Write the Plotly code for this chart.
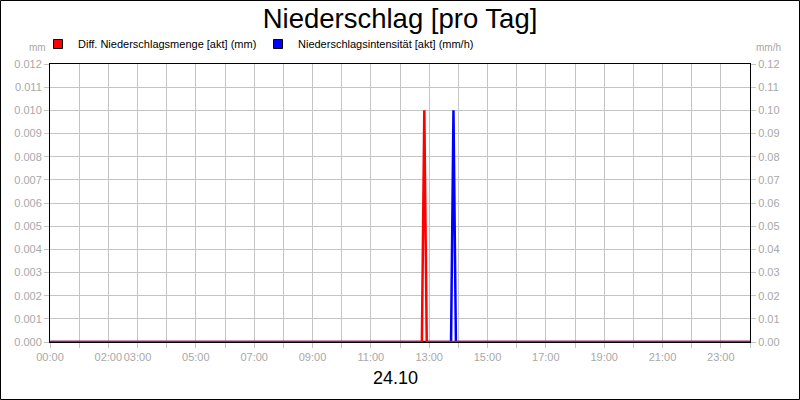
import plotly.graph_objects as go

# data (times of day, values)
menge_times = ["00:00", "12:45", "12:50", "12:55", "24:00"]
menge_values = [0, 0, 0.010, 0, 0]          # mm, left axis

intens_times = ["00:00", "13:45", "13:50", "13:55", "24:00"]
intens_values = [0, 0, 0.10, 0, 0]          # mm/h, right axis

tick_hours = [0, 2, 3, 5, 7, 9, 11, 13, 15, 17, 19, 21, 23]
tick_labels = ["%02d:00" % h for h in tick_hours]

left_ticks = [i / 1000 for i in range(13)]
right_ticks = [i / 100 for i in range(13)]


def to_hours(t):
    h, m = t.split(":")
    return int(h) + int(m) / 60


FONT = "Liberation Sans, Arial, sans-serif"
GREY = "#a8a8a8"
GRID = "#c4c4c4"
ML, MR, MT, MB = 50, 50, 64, 58
W, H = 800, 400
pw, ph = W - ML - MR, H - MT - MB

fig = go.Figure()

# blue sits on the base axis (right side), red on the overlay so it is drawn on top
fig.add_trace(go.Scatter(
    x=[to_hours(t) for t in intens_times], y=intens_values, yaxis="y",
    mode="lines", line=dict(color="#0000ff", width=2.5), showlegend=False
))
fig.add_trace(go.Scatter(
    x=[to_hours(t) for t in menge_times], y=menge_values, yaxis="y2",
    mode="lines", line=dict(color="#ff0000", width=2.5), showlegend=False
))

# legend entries drawn as squares like the original
fig.add_trace(go.Scatter(
    x=[None], y=[None], mode="markers", name="Diff. Niederschlagsmenge [akt] (mm)",
    marker=dict(symbol="square", size=9, color="#ff0000", line=dict(color="black", width=1))
))
fig.add_trace(go.Scatter(
    x=[None], y=[None], mode="markers", name="Niederschlagsintensität [akt] (mm/h)",
    marker=dict(symbol="square", size=9, color="#0000ff", line=dict(color="black", width=1))
))

fig.update_layout(
    width=W, height=H,
    margin=dict(l=ML, r=MR, t=MT, b=MB),
    paper_bgcolor="white", plot_bgcolor="white",
    font=dict(family=FONT, size=11, color="black"),
    title=dict(text="Niederschlag [pro Tag]", x=0.5, xanchor="center",
               y=1 - 18 / H, yanchor="middle", font=dict(size=27.5, color="black")),
    showlegend=True,
    legend=dict(orientation="h", x=-12 / pw, xanchor="left", y=1 + 20 / ph, yanchor="middle",
                font=dict(size=11, color="black"), itemwidth=30,
                entrywidth=175, entrywidthmode="pixels",
                bgcolor="rgba(0,0,0,0)", tracegroupgap=0),
    xaxis=dict(
        range=[0, 24], tickvals=tick_hours, ticktext=tick_labels, tickangle=0,
        showgrid=True, gridcolor=GRID, gridwidth=1,
        minor=dict(dtick=1, tick0=0, showgrid=True, gridcolor=GRID, ticks="outside",
                   ticklen=5, tickcolor=GRID),
        ticks="outside", ticklen=5, tickcolor=GRID,
        tickfont=dict(size=11, color=GREY),
        showline=True, linecolor="black", linewidth=1, mirror=True,
        zeroline=False, layer="below traces", fixedrange=True,
    ),
    yaxis=dict(
        range=[0, 0.12], tickvals=right_ticks, ticktext=["%.2f" % v for v in right_ticks],
        side="right", showgrid=True, gridcolor=GRID, gridwidth=1,
        ticks="outside", ticklen=5, tickcolor=GRID,
        tickfont=dict(size=11, color=GREY),
        showline=True, linecolor="black", linewidth=1,
        zeroline=False, layer="below traces",
    ),
    yaxis2=dict(
        range=[0, 0.012], tickvals=left_ticks, ticktext=["%.3f" % v for v in left_ticks],
        overlaying="y", side="left", showgrid=False,
        ticks="outside", ticklen=5, tickcolor=GRID,
        tickfont=dict(size=11, color=GREY),
        showline=True, linecolor="black", linewidth=1,
        zeroline=False, layer="below traces",
    ),
    annotations=[
        dict(text="mm", xref="paper", yref="paper", x=-2 / pw, y=1 + 16 / ph,
             xanchor="right", yanchor="middle", showarrow=False,
             font=dict(size=10, color=GREY)),
        dict(text="mm/h", xref="paper", yref="paper", x=1 + 4 / pw, y=1 + 16 / ph,
             xanchor="left", yanchor="middle", showarrow=False,
             font=dict(size=10, color=GREY)),
        dict(text="24.10", xref="paper", yref="paper", x=0.493, y=-36 / ph,
             xanchor="center", yanchor="middle", showarrow=False,
             font=dict(size=18, color="black")),
    ],
    shapes=[
        dict(type="rect", xref="paper", yref="paper",
             x0=(-ML + 0.5) / pw, x1=(pw + MR - 0.5) / pw,
             y0=(-MB + 0.5) / ph, y1=(ph + MT - 0.5) / ph,
             line=dict(color="black", width=1), layer="below"),
    ],
)

# the page's default body margin would shift the chart; remove it
fig.write_html("out.html", config={"displayModeBar": False},
               post_script="document.body.style.margin='0';")
